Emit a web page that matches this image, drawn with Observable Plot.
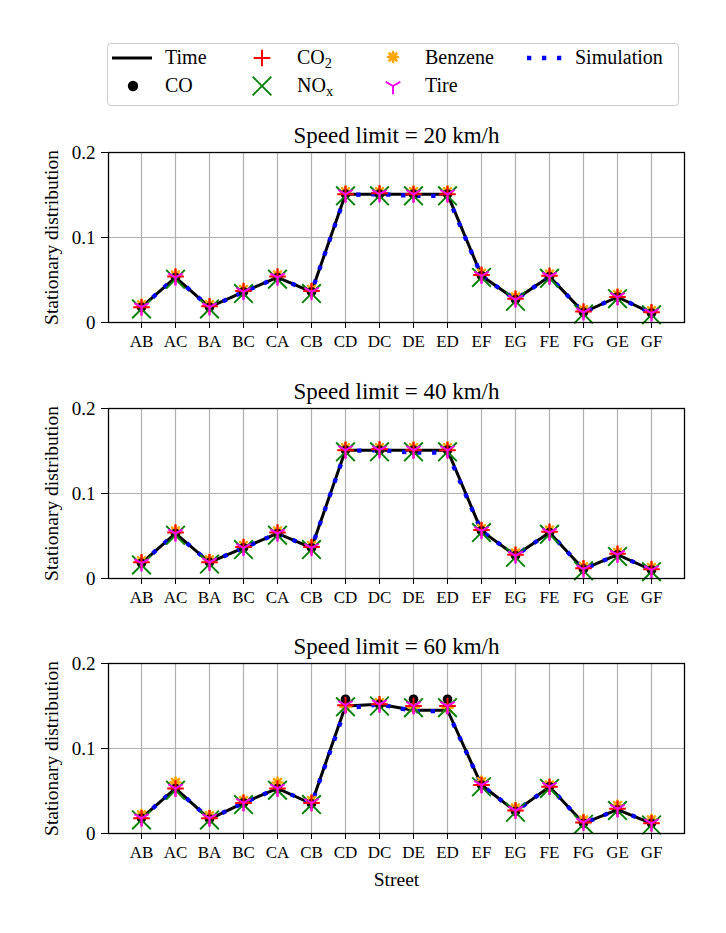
<!DOCTYPE html>
<html><head><meta charset="utf-8">
<script src="https://cdn.jsdelivr.net/npm/d3@7"></script>
<script src="https://cdn.jsdelivr.net/npm/@observablehq/plot@0.6"></script>
<style>
body{margin:0;background:#fff;}
#root{position:relative;width:726px;height:933px;font-family:"Liberation Serif","Times New Roman",serif;color:#000;}
.panel{position:absolute;left:0;}
.lt{position:absolute;font-size:20px;line-height:24px;white-space:nowrap;}
.lt sub{font-size:0.72em;vertical-align:-0.25em;line-height:0;}
#legbox{position:absolute;left:107px;top:43px;width:572px;height:63px;border:1.3px solid #cccccc;border-radius:4px;box-sizing:border-box;}
</style></head><body><div id="root"></div>
<script>
// ---- data ----
const streets = ["AB","AC","BA","BC","CA","CB","CD","DC","DE","ED","EF","EG","FE","FG","GE","GF"];
const panelTitles = ["Speed limit = 20 km/h","Speed limit = 40 km/h","Speed limit = 60 km/h"];
const yTicks = [0, 0.1, 0.2];

const time20 = [0.018,0.053,0.018,0.036,0.053,0.036,0.151,0.151,0.151,0.151,0.055,0.027,0.054,0.012,0.030,0.011];
const sim20  = [0.018,0.053,0.018,0.036,0.053,0.036,0.150,0.151,0.149,0.149,0.055,0.027,0.054,0.012,0.030,0.011];
const co20   = [0.018,0.053,0.018,0.036,0.053,0.036,0.151,0.151,0.151,0.151,0.055,0.027,0.054,0.012,0.030,0.011];
const co2_20 = [0.018,0.054,0.019,0.037,0.054,0.037,0.151,0.152,0.151,0.151,0.056,0.028,0.055,0.013,0.030,0.012];
const nox20  = [0.016,0.051,0.016,0.034,0.051,0.034,0.149,0.149,0.149,0.149,0.053,0.025,0.052,0.010,0.028,0.009];
const benz20 = [0.021,0.056,0.021,0.039,0.056,0.039,0.154,0.154,0.154,0.154,0.058,0.030,0.057,0.015,0.033,0.014];
const tire20 = [0.018,0.053,0.018,0.036,0.053,0.036,0.151,0.151,0.151,0.151,0.055,0.027,0.054,0.012,0.030,0.011];

const time40 = [0.018,0.053,0.019,0.036,0.053,0.036,0.151,0.151,0.151,0.151,0.056,0.027,0.054,0.011,0.028,0.010];
const sim40  = [0.018,0.053,0.019,0.036,0.053,0.036,0.150,0.151,0.148,0.148,0.056,0.027,0.054,0.011,0.028,0.010];
const co40   = [0.018,0.053,0.019,0.036,0.053,0.036,0.151,0.151,0.151,0.151,0.056,0.027,0.054,0.011,0.028,0.010];
const co2_40 = [0.019,0.054,0.019,0.037,0.054,0.037,0.151,0.152,0.151,0.151,0.057,0.028,0.055,0.012,0.029,0.011];
const nox40  = [0.016,0.051,0.017,0.034,0.051,0.034,0.149,0.149,0.149,0.149,0.054,0.025,0.052,0.009,0.026,0.008];
const benz40 = [0.021,0.056,0.022,0.039,0.056,0.039,0.154,0.154,0.154,0.154,0.059,0.030,0.057,0.014,0.031,0.013];
const tire40 = [0.018,0.053,0.019,0.036,0.053,0.036,0.151,0.151,0.151,0.151,0.056,0.027,0.054,0.011,0.028,0.010];

const time60 = [0.018,0.053,0.017,0.036,0.053,0.035,0.150,0.152,0.145,0.145,0.057,0.026,0.055,0.012,0.028,0.012];
const sim60  = [0.018,0.053,0.017,0.036,0.053,0.035,0.147,0.152,0.144,0.144,0.057,0.026,0.055,0.012,0.028,0.012];
const co60   = [0.018,0.053,0.017,0.036,0.053,0.035,0.158,0.152,0.158,0.158,0.057,0.026,0.055,0.012,0.028,0.012];
const co2_60 = [0.018,0.053,0.018,0.036,0.053,0.036,0.151,0.152,0.150,0.150,0.057,0.027,0.055,0.013,0.029,0.012];
const nox60  = [0.016,0.051,0.016,0.034,0.051,0.034,0.149,0.150,0.148,0.148,0.055,0.025,0.053,0.011,0.027,0.010];
const benz60 = [0.022,0.060,0.021,0.039,0.060,0.039,0.149,0.154,0.148,0.148,0.061,0.030,0.057,0.016,0.033,0.016];
const tire60 = [0.018,0.053,0.018,0.036,0.053,0.036,0.151,0.152,0.150,0.150,0.057,0.027,0.055,0.013,0.029,0.012];

const panels = [
  {time: time20, sim: sim20, co: co20, co2: co2_20, nox: nox20, benz: benz20, tire: tire20},
  {time: time40, sim: sim40, co: co40, co2: co2_40, nox: nox40, benz: benz40, tire: tire40},
  {time: time60, sim: sim60, co: co60, co2: co2_60, nox: nox60, benz: benz60, tire: tire60}
];

// ---- custom marker symbols (matplotlib-like) ----
const rad = s => Math.sqrt(s / Math.PI);
const plusSym = {draw(c, s){const r=rad(s); c.moveTo(-r,0); c.lineTo(r,0); c.moveTo(0,-r); c.lineTo(0,r);}};
const xSym = {draw(c, s){const r=rad(s)*0.707; c.moveTo(-r,-r); c.lineTo(r,r); c.moveTo(-r,r); c.lineTo(r,-r);}};
const triDown = {draw(c, s){const r=rad(s); c.moveTo(0,0); c.lineTo(0,r); c.moveTo(0,0); c.lineTo(-0.866*r,-0.5*r); c.moveTo(0,0); c.lineTo(0.866*r,-0.5*r);}};
const asterSym = {draw(c, s){const r=rad(s); for(let k=0;k<4;k++){const a=k*Math.PI/4; c.moveTo(-r*Math.cos(a),-r*Math.sin(a)); c.lineTo(r*Math.cos(a),r*Math.sin(a));}}};

const SZ = {co: 4.8, plus: 8.3, x: 13.2, tri: 8.3, aster: 5};

const root = document.getElementById("root");
const tops = [116, 372, 627];

panels.forEach((s, i) => {
  const last = i === 2;
  const H = last ? 290 : 256;
  const X = d => d;
  const marks = [
    Plot.gridX({stroke:"#b0b0b0", strokeOpacity:1, strokeWidth:1.2}),
    Plot.gridY({ticks:[0.1], stroke:"#b0b0b0", strokeOpacity:1, strokeWidth:1.2}),
    Plot.axisX({tickSize:6, tickPadding:6, fontSize:17, label:null}),
    Plot.axisY({ticks: yTicks, tickFormat: d => d === 0 ? "0" : String(d), tickSize:7, tickPadding:6, fontSize:19, label:null}),
    Plot.line(streets, {x: X, y: s.time, stroke:"black", strokeWidth:3}),
    Plot.line(streets, {x: X, y: s.sim, stroke:"#0000ff", strokeWidth:4.3, strokeDasharray:"4.3 10.7", strokeLinecap:"butt", strokeLinejoin:"miter"}),
    Plot.dot(streets, {x: X, y: s.benz, symbol: asterSym, r:SZ.aster, fill:"none", stroke:"#ffa500", strokeWidth:2.6, strokeLinecap:"round"}),
    Plot.dot(streets, {x: X, y: s.co, r:SZ.co, fill:"black", stroke:"none"}),
    Plot.dot(streets, {x: X, y: s.nox, symbol: xSym, r:SZ.x, fill:"none", stroke:"#008000", strokeWidth:1.9}),
    Plot.dot(streets, {x: X, y: s.co2, symbol: plusSym, r:SZ.plus, fill:"none", stroke:"#ff0000", strokeWidth:2}),
    Plot.dot(streets, {x: X, y: s.tire, symbol: triDown, r:SZ.tri, fill:"none", stroke:"#ff00ff", strokeWidth:2}),
    Plot.frame({stroke:"black", strokeWidth:1.3}),
    Plot.text([panelTitles[i]], {text: d => d, frameAnchor:"top", lineAnchor:"middle", dy:-17, fontSize:23}),
    Plot.text(["Stationary distribution"], {text: d => d, frameAnchor:"left", textAnchor:"middle", lineAnchor:"middle", dx:-57, rotate:-90, fontSize:19.5})
  ];
  if (last) marks.push(Plot.text(["Street"], {text: d => d, frameAnchor:"bottom", lineAnchor:"middle", dy:46, fontSize:19.5}));
  const chart = Plot.plot({
    width: 726, height: H,
    marginLeft: 108, marginRight: 42, marginTop: 36, marginBottom: H - 36 - 170,
    style: {fontFamily: '"Liberation Serif","Times New Roman",serif', fontSize: "17px", background: "white", overflow: "visible", color: "black"},
    x: {type: "point", domain: streets, padding: 0.75},
    y: {domain: [0, 0.2]},
    marks
  });
  const wrap = document.createElement("div");
  wrap.className = "panel";
  wrap.style.top = tops[i] + "px";
  wrap.appendChild(chart);
  root.appendChild(wrap);
});

// ---- legend ----
const leg = document.createElement("div");
leg.id = "legbox";
root.appendChild(leg);
const ns = "http://www.w3.org/2000/svg";
const lsvg = document.createElementNS(ns, "svg");
lsvg.setAttribute("width", 726); lsvg.setAttribute("height", 120);
lsvg.style.position = "absolute"; lsvg.style.left = "0"; lsvg.style.top = "0";
function P(d, attrs){const p=document.createElementNS(ns,"path"); p.setAttribute("d", d); for(const k in attrs) p.setAttribute(k, attrs[k]); lsvg.appendChild(p);}
function sym(symObj, r, cx, cy, attrs){const path = d3.path(); symObj.draw(path, Math.PI*r*r); const g=document.createElementNS(ns,"path"); g.setAttribute("d", path.toString()); g.setAttribute("transform", `translate(${cx},${cy})`); for(const k in attrs) g.setAttribute(k, attrs[k]); lsvg.appendChild(g);}
P("M112,58H152", {stroke:"black","stroke-width":3, fill:"none"});
P("M527,58H563", {stroke:"#0000ff","stroke-width":4.3,"stroke-dasharray":"4.3 10.7", fill:"none"});
const c = document.createElementNS(ns,"circle"); c.setAttribute("cx",133); c.setAttribute("cy",86); c.setAttribute("r",SZ.co+0.4); c.setAttribute("fill","black"); lsvg.appendChild(c);
sym(plusSym, SZ.plus, 262, 58, {stroke:"#ff0000","stroke-width":2, fill:"none"});
sym(xSym, SZ.x, 262, 86, {stroke:"#008000","stroke-width":1.9, fill:"none"});
sym(asterSym, SZ.aster, 393, 57, {stroke:"#ffa500","stroke-width":2.6, fill:"none","stroke-linecap":"round"});
sym(triDown, SZ.tri, 393, 86, {stroke:"#ff00ff","stroke-width":2, fill:"none"});
root.appendChild(lsvg);
const legTexts = [
  ["Time", 165, 58], ["CO", 165, 86], ["CO<sub>2</sub>", 297, 58], ["NO<sub>x</sub>", 297, 86],
  ["Benzene", 425, 58], ["Tire", 425, 86], ["Simulation", 575, 58]
];
for (const [t, x, y] of legTexts) {
  const d = document.createElement("div");
  d.className = "lt"; d.innerHTML = t;
  d.style.left = x + "px"; d.style.top = (y - 13) + "px";
  root.appendChild(d);
}
</script></body></html>
